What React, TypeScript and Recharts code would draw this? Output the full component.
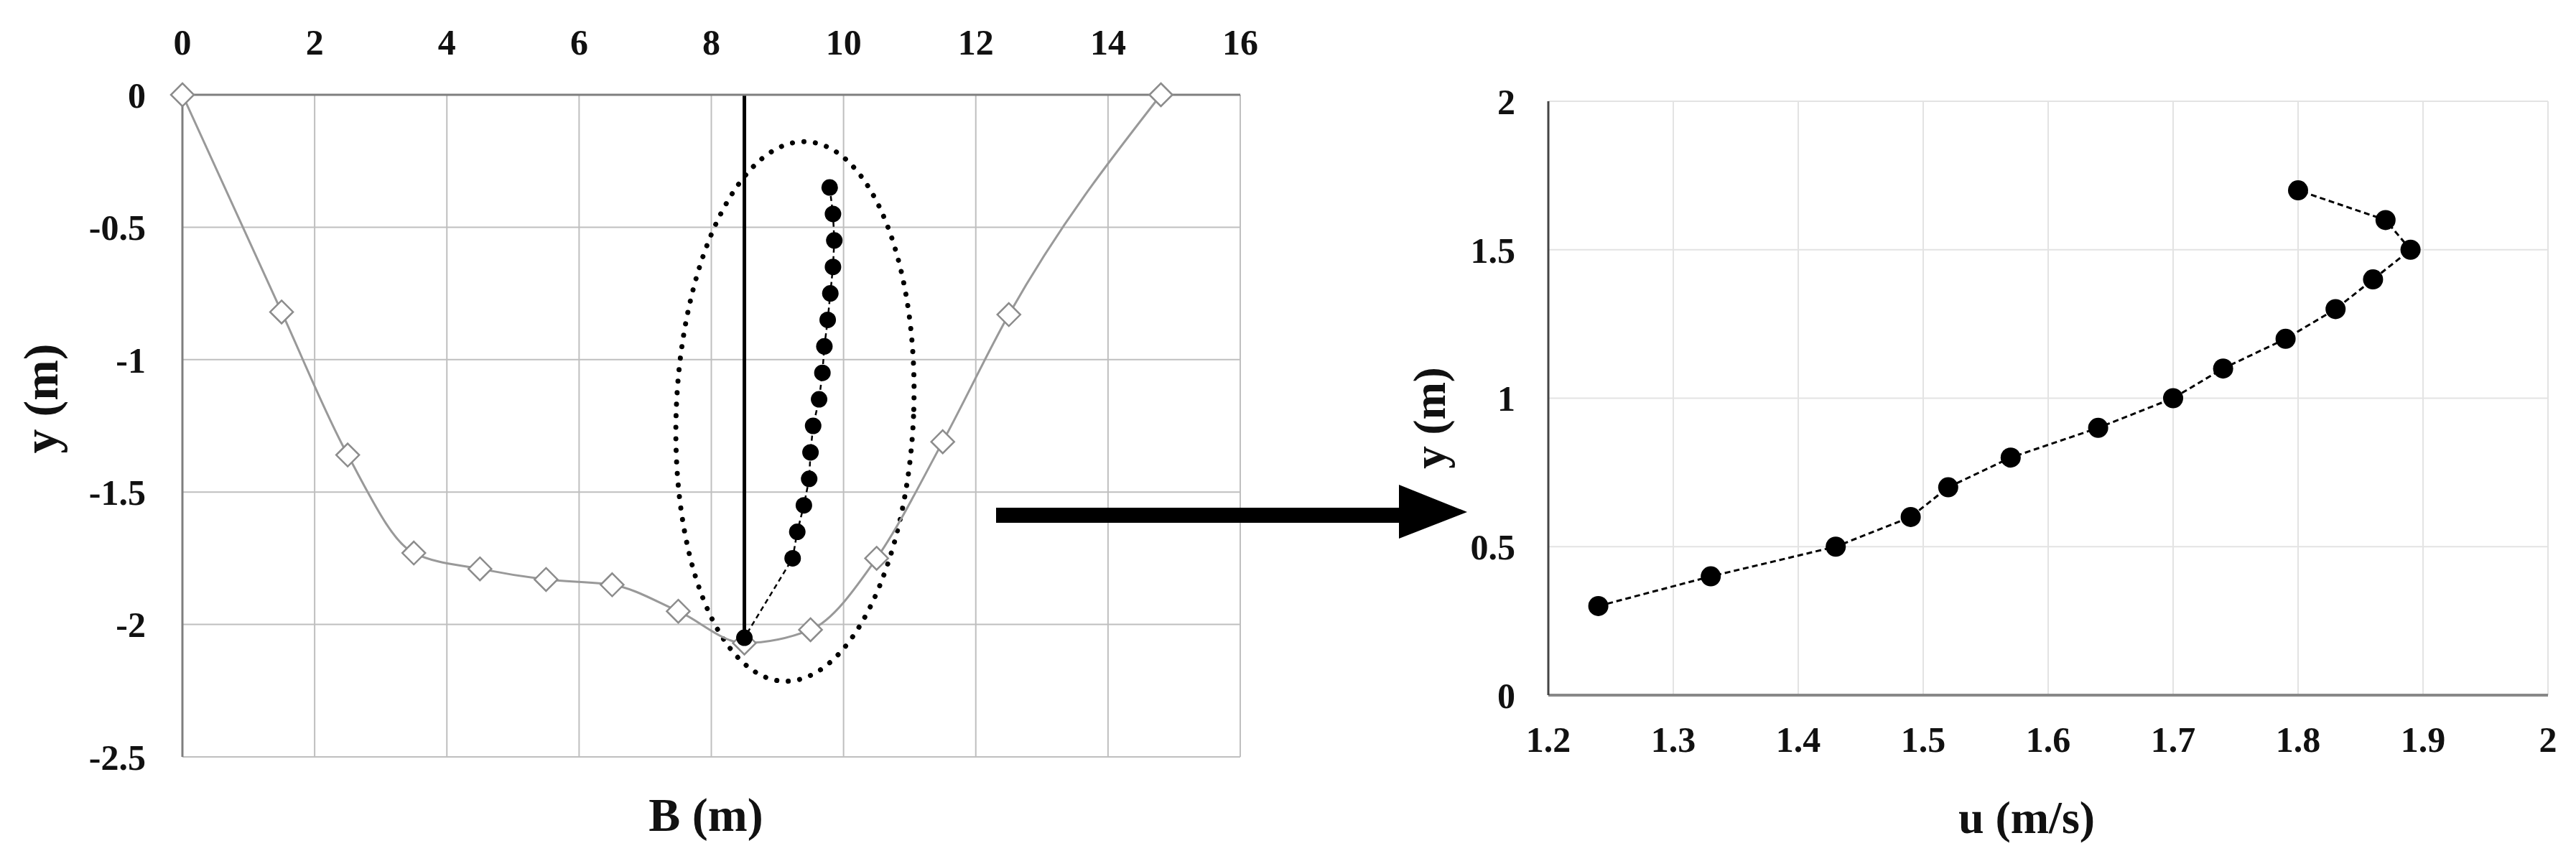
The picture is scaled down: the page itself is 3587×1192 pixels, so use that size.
import React from "react";
import {
  ScatterChart,
  Scatter,
  XAxis,
  YAxis,
  CartesianGrid,
  ReferenceLine,
  ReferenceArea,
} from "recharts";

// cross-section: bed profile (B, y)
const bedB = [0, 1.5, 2.5, 3.5, 4.5, 5.5, 6.5, 7.5, 8.5, 9.5, 10.5, 11.5, 12.5, 14.8];
const bedY = [0, -0.82, -1.36, -1.73, -1.79, -1.83, -1.85, -1.95, -2.07, -2.02, -1.75, -1.31, -0.83, 0];

// velocity profile drawn inside the cross-section
const profileB = [9.79, 9.84, 9.86, 9.84, 9.8, 9.76, 9.71, 9.68, 9.63, 9.54, 9.5, 9.48, 9.4, 9.3, 9.23, 8.5];
const profileY = [-0.35, -0.45, -0.55, -0.65, -0.75, -0.85, -0.95, -1.05, -1.15, -1.25, -1.35, -1.45, -1.55, -1.65, -1.75, -2.05];

// measured vertical: u (m/s) against height above bed
const velU = [1.24, 1.33, 1.43, 1.49, 1.52, 1.57, 1.64, 1.7, 1.74, 1.79, 1.83, 1.86, 1.89, 1.87, 1.8];
const velY = [0.3, 0.4, 0.5, 0.6, 0.7, 0.8, 0.9, 1.0, 1.1, 1.2, 1.3, 1.4, 1.5, 1.6, 1.7];

const bTicks = [0, 2, 4, 6, 8, 10, 12, 14, 16];
const depthTicks = [-2.5, -2, -1.5, -1, -0.5, 0];
const uTicks = [1.2, 1.3, 1.4, 1.5, 1.6, 1.7, 1.8, 1.9, 2];
const hTicks = [0, 0.5, 1, 1.5, 2];

// hand drawn ellipse around the measured vertical
const ellipseB = [7.47, 11.06];
const ellipseY = [-2.215, -0.176];

const bed = bedB.map((x, i) => ({ x, y: bedY[i] }));
const profile = profileB.map((x, i) => ({ x, y: profileY[i] }));
const velocity = velU.map((x, i) => ({ x, y: velY[i] }));

const FONT = "'Liberation Serif', 'DejaVu Serif', serif";
const tick = { fill: "#111", fontFamily: FONT, fontWeight: 700, fontSize: 50 };

const Diamond = (p: any) => {
  const { cx, cy } = p;
  const r = 16;
  return (
    <polygon
      points={`${cx},${cy - r} ${cx + r},${cy} ${cx},${cy + r} ${cx - r},${cy}`}
      fill="#fff"
      stroke="#8c8c8c"
      strokeWidth={2.5}
    />
  );
};

const Dot = (r: number) => (p: any) => <circle cx={p.cx} cy={p.cy} r={r} fill="#000" />;

const DottedEllipse = (p: any) => {
  const { x, y, width, height } = p;
  const cx = x + width / 2;
  const cy = y + height / 2;
  return (
    <ellipse
      cx={cx}
      cy={cy}
      rx={width / 2}
      ry={height / 2}
      fill="none"
      stroke="#000"
      strokeWidth={7}
      strokeLinecap="round"
      strokeDasharray="0.1 16"
      transform={`rotate(2.4 ${cx} ${cy})`}
    />
  );
};

function CrossSection() {
  return (
    <ScatterChart
      width={1800}
      height={1192}
      margin={{ top: 52, right: 73, bottom: 138, left: 134 }}
    >
      <CartesianGrid stroke="#bfbfbf" strokeWidth={2} />
      <XAxis
        type="number"
        dataKey="x"
        orientation="top"
        domain={[0, 16]}
        ticks={bTicks}
        height={80}
        tickSize={0}
        tickMargin={56}
        tickLine={false}
        axisLine={{ stroke: "#7f7f7f", strokeWidth: 3 }}
        tick={tick}
      />
      <XAxis
        xAxisId="frame"
        type="number"
        orientation="bottom"
        domain={[0, 16]}
        height={0}
        tick={false}
        tickLine={false}
        axisLine={{ stroke: "#000", strokeWidth: 4 }}
      />
      <YAxis
        type="number"
        dataKey="y"
        domain={[-2.5, 0]}
        ticks={depthTicks}
        width={120}
        tickSize={0}
        tickMargin={51}
        tickLine={false}
        axisLine={{ stroke: "#7f7f7f", strokeWidth: 3 }}
        tick={tick}
      />
      <YAxis
        yAxisId="frame"
        type="number"
        orientation="right"
        domain={[-2.5, 0]}
        width={0}
        tick={false}
        tickLine={false}
        axisLine={{ stroke: "#000", strokeWidth: 4 }}
      />
      <ReferenceArea
        x1={ellipseB[0]}
        x2={ellipseB[1]}
        y1={ellipseY[0]}
        y2={ellipseY[1]}
        shape={DottedEllipse}
      />
      <Scatter
        data={bed}
        line={{ stroke: "#999", strokeWidth: 3 }}
        lineJointType="monotoneX"
        shape={Diamond}
        isAnimationActive={false}
      />
      <ReferenceLine
        segment={[
          { x: 8.5, y: 0 },
          { x: 8.5, y: -2.05 },
        ]}
        stroke="#000"
        strokeWidth={5}
      />
      <Scatter
        data={profile}
        line={{ stroke: "#000", strokeWidth: 2.5, strokeDasharray: "7 5" }}
        shape={Dot(11.5)}
        isAnimationActive={false}
      />
    </ScatterChart>
  );
}

function VelocityProfile() {
  return (
    <ScatterChart
      width={1787}
      height={1192}
      margin={{ top: 141, right: 39, bottom: 104, left: 236 }}
    >
      <CartesianGrid stroke="#e3e3e3" strokeWidth={2} />
      <XAxis
        type="number"
        dataKey="x"
        domain={[1.2, 2]}
        ticks={uTicks}
        height={120}
        tickSize={0}
        tickMargin={43}
        tickLine={false}
        axisLine={{ stroke: "#888", strokeWidth: 4 }}
        tick={tick}
      />
      <XAxis
        xAxisId="frame"
        type="number"
        orientation="top"
        domain={[1.2, 2]}
        height={0}
        tick={false}
        tickLine={false}
        axisLine={{ stroke: "#444", strokeWidth: 3 }}
      />
      <YAxis
        type="number"
        dataKey="y"
        domain={[0, 2]}
        ticks={hTicks}
        width={120}
        tickSize={0}
        tickMargin={46}
        tickLine={false}
        axisLine={{ stroke: "#444", strokeWidth: 3 }}
        tick={tick}
      />
      <YAxis
        yAxisId="frame"
        type="number"
        orientation="right"
        domain={[0, 2]}
        width={0}
        tick={false}
        tickLine={false}
        axisLine={{ stroke: "#888", strokeWidth: 4 }}
      />
      <Scatter
        data={velocity}
        line={{ stroke: "#000", strokeWidth: 3, strokeDasharray: "8 5" }}
        shape={Dot(14)}
        isAnimationActive={false}
      />
    </ScatterChart>
  );
}

export default function App() {
  const title = { fontFamily: FONT, fontWeight: 700, fill: "#111" } as const;
  return (
    <div style={{ position: "absolute", left: 0, top: 0, width: 3587, height: 1192, background: "#fff" }}>
      <div style={{ position: "absolute", left: 0, top: 0 }}>
        <CrossSection />
      </div>
      <div style={{ position: "absolute", left: 1800, top: 0 }}>
        <VelocityProfile />
      </div>
      <svg
        width={3587}
        height={1192}
        style={{ position: "absolute", left: 0, top: 0, pointerEvents: "none" }}
      >
        <rect x={1387} y={707} width={565} height={21} fill="#000" />
        <polygon points="1948,675 2043,713 1948,750" fill="#000" />
        <text x={983} y={1157} textAnchor="middle" fontSize={66} {...title}>
          B (m)
        </text>
        <text x={2822} y={1160} textAnchor="middle" fontSize={64} {...title}>
          u (m/s)
        </text>
        <text
          x={0}
          y={0}
          textAnchor="middle"
          fontSize={68}
          transform="translate(80 555) rotate(-90)"
          {...title}
        >
          y (m)
        </text>
        <text
          x={0}
          y={0}
          textAnchor="middle"
          fontSize={63}
          transform="translate(2012 582) rotate(-90)"
          {...title}
        >
          y (m)
        </text>
      </svg>
    </div>
  );
}
